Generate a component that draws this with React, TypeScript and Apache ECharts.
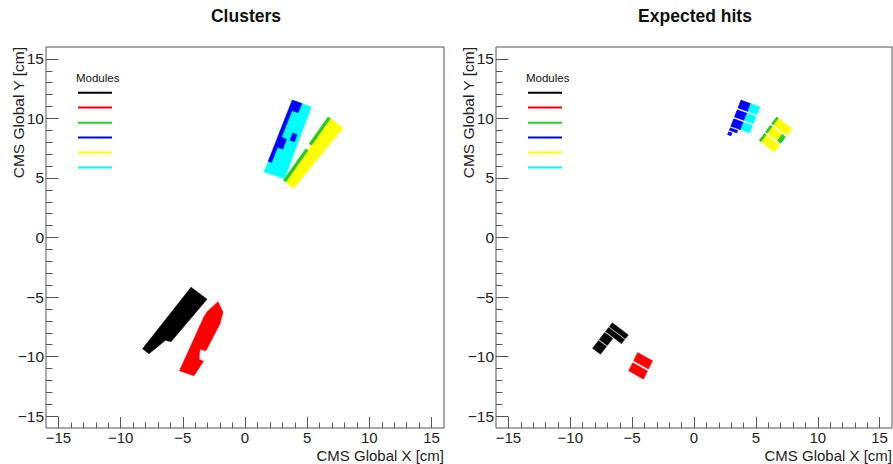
import React, { useEffect, useRef } from "react";
import * as echarts from "echarts";

// ---- axis ticks / labels ----
const MAJOR_TICKS = [-15, -10, -5, 0, 5, 10, 15];
const MINOR_TICKS = [-15, -14, -13, -12, -11, -10, -9, -8, -7, -6, -5, -4, -3, -2, -1, 0, 1, 2, 3, 4, 5, 6, 7, 8, 9, 10, 11, 12, 13, 14, 15];
const AXIS_MIN = -16;
const AXIS_MAX = 16;

const PANEL_TITLES = ["Clusters", "Expected hits"];
const X_TITLE = "CMS Global X [cm]";
const Y_TITLE = "CMS Global Y [cm]";
const LEGEND_TITLE = "Modules";
const MODULE_COLORS = ["#000000", "#ff0000", "#22cc22", "#0000ff", "#ffff00", "#00ffff"];

// ---- Clusters panel: polygons in CMS global coordinates [cm] ----
const clusterBlack = [[-4.34, -4.17], [-3.05, -5.18], [-5.95, -8.76], [-6.39, -8.63], [-7.72, -9.77], [-8.24, -9.35]];
const clusterRed = [[-2.17, -5.39], [-1.77, -6.27], [-2.01, -7.24], [-3.14, -9.52], [-3.62, -9.39], [-3.70, -10.23], [-3.34, -10.40], [-4.10, -11.62], [-5.27, -11.20], [-3.30, -6.65], [-3.05, -6.23]];
const clusterCyan = [[3.80, 11.54], [5.33, 10.97], [3.18, 4.94], [1.53, 5.50]];
const clusterBlueA = [[3.80, 11.54], [4.57, 11.26], [4.27, 10.47], [3.78, 10.65], [2.94, 8.42], [3.35, 8.26], [3.04, 7.42], [2.62, 7.57], [2.15, 6.30], [1.87, 6.41]];
const clusterBlueB = [[3.84, 8.77], [4.19, 8.64], [3.97, 8.04], [3.61, 8.17]];
const clusterYellow = [[6.87, 9.99], [7.90, 9.15], [7.50, 8.73], [3.88, 4.10], [3.28, 4.66]];
const clusterGreenA = [[6.67, 10.13], [6.87, 9.99], [5.36, 7.75], [5.16, 7.89]];
const clusterGreenB = [[4.88, 7.46], [5.08, 7.32], [3.28, 4.66], [3.08, 4.80]];

// ---- Expected hits panel ----
const hitBlack1 = [[-6.60, -7.17], [-5.31, -8.18], [-5.55, -8.50], [-6.84, -7.49]];
const hitBlack2 = [[-6.90, -7.56], [-5.61, -8.57], [-5.86, -8.91], [-7.15, -7.90]];
const hitBlack3 = [[-7.21, -7.98], [-6.56, -8.48], [-7.01, -9.08], [-7.66, -8.57]];
const hitBlack4 = [[-7.71, -8.65], [-7.07, -9.16], [-7.56, -9.80], [-8.20, -9.30]];
const hitRed1 = [[-4.56, -9.66], [-3.35, -10.36], [-3.68, -11.05], [-4.88, -10.35]];
const hitRed2 = [[-4.96, -10.51], [-3.75, -11.21], [-4.08, -11.90], [-5.28, -11.20]];
const hitBlue1 = [[3.80, 11.54], [4.60, 11.24], [4.35, 10.58], [3.55, 10.88]];
const hitBlue2 = [[3.49, 10.72], [4.29, 10.43], [4.06, 9.83], [3.27, 10.12]];
const hitBlue3 = [[3.21, 9.97], [4.01, 9.67], [3.77, 9.04], [2.97, 9.34]];
const hitBlue4 = [[2.93, 9.22], [3.54, 8.99], [3.46, 8.78], [2.85, 9.00]];
const hitBlue5 = [[2.80, 8.88], [3.08, 8.78], [2.99, 8.54], [2.71, 8.64]];
const hitCyan1 = [[4.60, 11.24], [5.33, 10.97], [5.08, 10.31], [4.35, 10.58]];
const hitCyan2 = [[4.29, 10.43], [5.02, 10.16], [4.80, 9.55], [4.06, 9.83]];
const hitCyan3 = [[4.01, 9.67], [4.74, 9.40], [4.50, 8.77], [3.77, 9.04]];
const hitYellow1 = [[6.82, 10.01], [7.90, 9.15], [7.49, 8.58], [6.41, 9.44]];
const hitYellow2 = [[6.32, 9.31], [7.13, 8.67], [6.74, 8.12], [5.93, 8.76]];
const hitYellow3 = [[5.84, 8.63], [6.92, 7.77], [6.49, 7.17], [5.41, 8.04]];
const hitGreen1 = [[6.67, 10.13], [6.82, 10.01], [6.41, 9.44], [6.26, 9.56]];
const hitGreen2 = [[6.17, 9.43], [6.32, 9.31], [5.93, 8.76], [5.78, 8.88]];
const hitGreen3 = [[7.13, 8.67], [7.40, 8.45], [7.01, 7.90], [6.74, 8.12]];
const hitGreen4 = [[5.69, 8.75], [5.84, 8.63], [5.41, 8.04], [5.26, 8.15]];

type Shape = { pts: number[][]; color: string };

const CLUSTER_SHAPES: Shape[] = [
  { pts: clusterBlack, color: MODULE_COLORS[0] },
  { pts: clusterRed, color: MODULE_COLORS[1] },
  { pts: clusterCyan, color: MODULE_COLORS[5] },
  { pts: clusterBlueA, color: MODULE_COLORS[3] },
  { pts: clusterBlueB, color: MODULE_COLORS[3] },
  { pts: clusterYellow, color: MODULE_COLORS[4] },
  { pts: clusterGreenA, color: MODULE_COLORS[2] },
  { pts: clusterGreenB, color: MODULE_COLORS[2] },
];

const HIT_SHAPES: Shape[] = [
  ...[hitBlack1, hitBlack2, hitBlack3, hitBlack4].map((p) => ({ pts: p, color: MODULE_COLORS[0] })),
  ...[hitRed1, hitRed2].map((p) => ({ pts: p, color: MODULE_COLORS[1] })),
  ...[hitBlue1, hitBlue2, hitBlue3, hitBlue4, hitBlue5].map((p) => ({ pts: p, color: MODULE_COLORS[3] })),
  ...[hitCyan1, hitCyan2, hitCyan3].map((p) => ({ pts: p, color: MODULE_COLORS[5] })),
  ...[hitYellow1, hitYellow2, hitYellow3].map((p) => ({ pts: p, color: MODULE_COLORS[4] })),
  ...[hitGreen1, hitGreen2, hitGreen3, hitGreen4].map((p) => ({ pts: p, color: MODULE_COLORS[2] })),
];

const FONT = "'Liberation Sans', Arial, Helvetica, sans-serif";
const FRAME = "#555555";

const GRIDS = [
  { left: 46, top: 47, width: 398, height: 381 },
  { left: 496, top: 47, width: 396, height: 381 },
];

const fmt = (v: number) => String(v).replace("-", "\u2212");

function makeX(grid: number, major: boolean) {
  return {
    type: "value",
    gridIndex: grid,
    position: "bottom",
    min: AXIS_MIN,
    max: AXIS_MAX,
    axisLine: { show: false, onZero: false },
    splitLine: { show: false },
    axisTick: {
      show: true,
      inside: true,
      length: major ? 11 : 5.5,
      customValues: major ? MAJOR_TICKS : MINOR_TICKS,
      lineStyle: { color: FRAME, width: 1 },
    },
    axisLabel: major
      ? {
          show: true,
          customValues: MAJOR_TICKS,
          formatter: fmt,
          margin: 1.5,
          fontFamily: FONT,
          fontSize: 15,
          color: "#222",
        }
      : { show: false },
  };
}

function makeY(grid: number, major: boolean) {
  return {
    type: "value",
    gridIndex: grid,
    position: "left",
    min: AXIS_MIN,
    max: AXIS_MAX,
    axisLine: { show: false, onZero: false },
    splitLine: { show: false },
    axisTick: {
      show: true,
      inside: true,
      length: major ? 12.5 : 6.5,
      customValues: major ? MAJOR_TICKS : MINOR_TICKS,
      lineStyle: { color: FRAME, width: 1 },
    },
    axisLabel: major
      ? {
          show: true,
          customValues: MAJOR_TICKS,
          formatter: fmt,
          margin: 2,
          fontFamily: FONT,
          fontSize: 15.5,
          color: "#222",
        }
      : { show: false },
  };
}

function shapeSeries(shapes: Shape[], axisIndex: number) {
  return {
    type: "custom",
    xAxisIndex: axisIndex,
    yAxisIndex: axisIndex,
    silent: true,
    z: 3,
    data: shapes.map((s, i) => [s.pts[0][0], s.pts[0][1], i]),
    encode: { x: 0, y: 1 },
    renderItem: (_params: any, api: any) => {
      const s = shapes[api.value(2)];
      const points = s.pts.map((p) => api.coord(p));
      return {
        type: "polygon",
        shape: { points },
        style: { fill: s.color, stroke: s.color, lineWidth: 0.5 },
      };
    },
  };
}

const LEGEND_Y = [92.7, 107.5, 122.7, 137.5, 152.5, 167.5];

function panelGraphics(i: number) {
  const g = GRIDS[i];
  const off = g.left - GRIDS[0].left;
  const els: any[] = [
    {
      type: "text",
      x: g.left + g.width / 2 + 1,
      y: 16,
      style: {
        text: PANEL_TITLES[i],
        fontFamily: FONT,
        fontWeight: "bold",
        fontSize: 17.5,
        fill: "#111",
        textAlign: "center",
        textVerticalAlign: "middle",
      },
    },
    {
      type: "text",
      x: g.left + g.width,
      y: 455,
      style: {
        text: X_TITLE,
        fontFamily: FONT,
        fontSize: 15,
        fill: "#222",
        textAlign: "right",
        textVerticalAlign: "middle",
      },
    },
    {
      type: "text",
      x: 18.5 + off,
      y: 47,
      rotation: Math.PI / 2,
      style: {
        text: Y_TITLE,
        fontFamily: FONT,
        fontSize: 15.5,
        fill: "#222",
        textAlign: "right",
        textVerticalAlign: "middle",
      },
    },
    {
      type: "text",
      x: 76 + off,
      y: 77.5,
      style: {
        text: LEGEND_TITLE,
        fontFamily: FONT,
        fontSize: 11.5,
        fill: "#111",
        textAlign: "left",
        textVerticalAlign: "middle",
      },
    },
  ];
  MODULE_COLORS.forEach((c, k) => {
    els.push({
      type: "line",
      shape: { x1: 78 + off, y1: LEGEND_Y[k], x2: 112 + off, y2: LEGEND_Y[k] },
      style: { stroke: c, lineWidth: 2 },
    });
  });
  return els;
}

export default function App() {
  const ref = useRef<HTMLDivElement>(null);
  useEffect(() => {
    if (!ref.current) return;
    const chart = echarts.init(ref.current, null, { renderer: "svg" });
    chart.setOption({
      animation: false,
      backgroundColor: "#ffffff",
      grid: GRIDS.map((g) => ({
        ...g,
        show: true,
        borderColor: FRAME,
        borderWidth: 1,
        backgroundColor: "transparent",
        containLabel: false,
      })),
      xAxis: [makeX(0, true), makeX(0, false), makeX(1, true), makeX(1, false)],
      yAxis: [makeY(0, true), makeY(0, false), makeY(1, true), makeY(1, false)],
      series: [shapeSeries(CLUSTER_SHAPES, 0), shapeSeries(HIT_SHAPES, 2)],
      graphic: [...panelGraphics(0), ...panelGraphics(1)],
    });
    return () => chart.dispose();
  }, []);
  return (
    <div
      ref={ref}
      style={{ position: "fixed", left: 0, top: 0, width: 893, height: 464, background: "#fff" }}
    />
  );
}
